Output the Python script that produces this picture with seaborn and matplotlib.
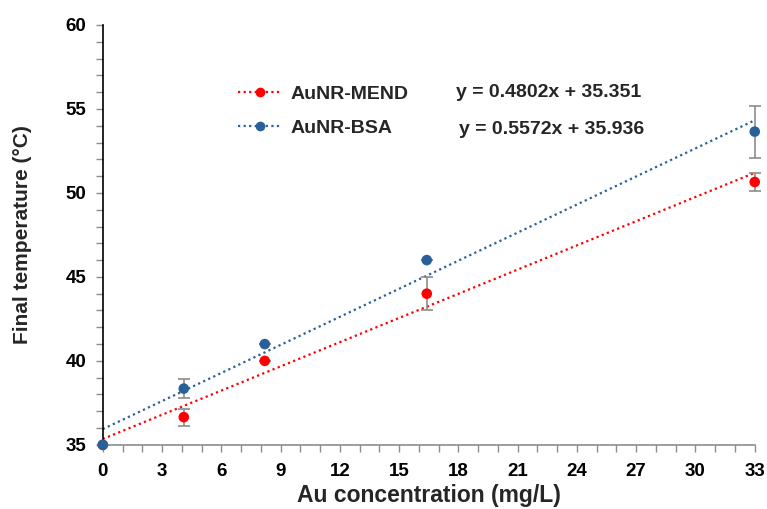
import numpy as np
import pandas as pd
import matplotlib
matplotlib.use("Agg")
import matplotlib.pyplot as plt
from matplotlib.ticker import MultipleLocator
from matplotlib.lines import Line2D
import seaborn as sns

sns.set_style("white")
plt.rcParams['font.family'] = ['Liberation Sans', 'DejaVu Sans']

conc = [0, 4.1, 8.2, 16.4, 33]
mend_temp = [35.0, 36.65, 40.0, 44.0, 50.65]
mend_err = [0.0, 0.5, 0.0, 1.0, 0.55]
bsa_temp = [35.0, 38.35, 41.0, 46.0, 53.65]
bsa_err = [0.0, 0.55, 0.0, 0.0, 1.55]
series_names = ["AuNR-MEND", "AuNR-BSA"]
slopes = [0.4802, 0.5572]
intercepts = [35.351, 35.936]
equations = ["y = 0.4802x + 35.351", "y = 0.5572x + 35.936"]
colors = ["#FF0000", "#2A6099"]

df = pd.DataFrame({
    "conc": conc * 2,
    "temp": mend_temp + bsa_temp,
    "err": mend_err + bsa_err,
    "series": [series_names[0]] * 5 + [series_names[1]] * 5,
})

fig = plt.figure(figsize=(7.67, 5.09), dpi=100)
ax = fig.add_axes([0.134, 0.126, 0.850, 0.825])

xfit = np.array([0, 33])
for i, name in enumerate(series_names):
    ax.plot(xfit, slopes[i] * xfit + intercepts[i], linestyle=(0, (1, 1.5)),
            color=colors[i], lw=1.6, zorder=2)

for i, name in enumerate(series_names):
    sub = df[df.series == name]
    ax.errorbar(sub.conc, sub.temp, yerr=sub.err, fmt="none", ecolor="#8C8C8C",
                elinewidth=1.2, capsize=4, capthick=1.2, zorder=3, clip_on=False)

sns.scatterplot(data=df, x="conc", y="temp", hue="series", palette=colors,
                s=58, edgecolor="none", ax=ax, legend=False, zorder=4, clip_on=False)

ax.set_xlim(0, 33)
ax.set_ylim(35, 60)
ax.xaxis.set_major_locator(MultipleLocator(3))
ax.xaxis.set_minor_locator(MultipleLocator(1))
ax.yaxis.set_major_locator(MultipleLocator(5))
ax.yaxis.set_minor_locator(MultipleLocator(1))
ax.tick_params(axis="both", which="both", direction="out", length=5, width=1,
               color="#8C8C8C", labelcolor="#000000", bottom=True, left=True)
ax.tick_params(axis="both", which="major", labelsize=13.5)
ax.tick_params(axis="y", which="major", pad=7)
ax.tick_params(axis="x", which="major", pad=8)
for lab in ax.get_xticklabels() + ax.get_yticklabels():
    lab.set_fontweight("bold")

for s in ["top", "right"]:
    ax.spines[s].set_visible(False)
ax.spines["left"].set_color("#000000")
ax.spines["left"].set_linewidth(1.2)
ax.spines["bottom"].set_color("#8C8C8C")
ax.spines["bottom"].set_linewidth(1.2)

ax.set_xlabel("Au concentration (mg/L)", fontsize=16.5, fontweight="bold")
ax.set_ylabel("Final temperature (°C)", fontsize=15, fontweight="bold")
ax.xaxis.set_label_coords(0.5, -0.093)
ax.yaxis.set_label_coords(-0.108, 0.5)

handles = [Line2D([0], [0], color=colors[i], linestyle=(0, (1, 1.5)), lw=1.6,
                  marker="o", markersize=7, markeredgecolor="none") for i in range(2)]
leg = ax.legend(handles, series_names, loc="center left", bbox_to_anchor=(0.208, 0.795),
                frameon=False, fontsize=14, handlelength=2.25, labelspacing=0.82,
                handletextpad=0.45, borderpad=0, borderaxespad=0)
for t in leg.get_texts():
    t.set_fontweight("bold")

ax.text(0.542, 0.840, equations[0], transform=ax.transAxes, fontsize=14,
        fontweight="bold", va="center")
ax.text(0.547, 0.752, equations[1], transform=ax.transAxes, fontsize=14,
        fontweight="bold", va="center")

fig.savefig("out.png", dpi=100)
